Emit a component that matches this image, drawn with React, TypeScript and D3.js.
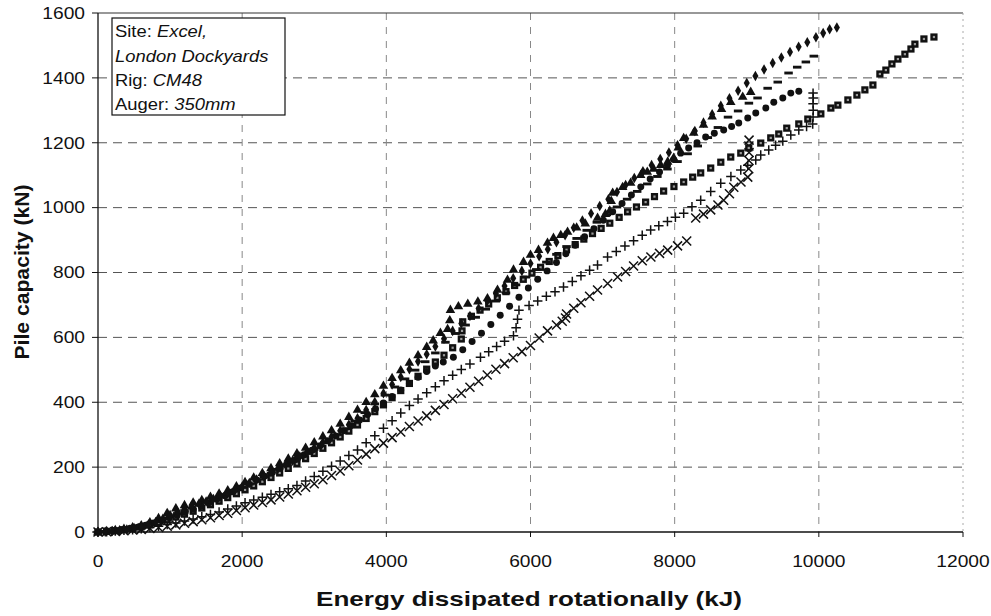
import React from 'react';
import * as d3 from 'd3';

const W = 991;
const H = 616;
const PLOT = { left: 98, right: 963, top: 13, bottom: 532 };

const xTicks = [0, 2000, 4000, 6000, 8000, 10000, 12000];
const yTicks = [0, 200, 400, 600, 800, 1000, 1200, 1400, 1600];
const xTitle = 'Energy dissipated rotationally (kJ)';
const yTitle = 'Pile capacity (kN)';

// Diamonds (top series)
const seriesDiamond: [number, number][] = [
  [0,0],[100,1],[200,3],[300,5],[400,8],[500,12],[600,17],[700,23],[800,31],[900,41],[1000,52],[1100,63],[1200,72],[1300,80],[1400,87],[1500,94],[1600,102],[1700,110],[1800,119],[1900,129],[2000,140],[2100,151],[2200,162],[2300,173],[2400,185],[2500,197],[2600,208],[2700,220],[2800,233],[2900,247],[3000,260],[3120,277],[3240,294],[3360,312],[3480,331],[3600,351],[3720,376],[3840,401],[3960,428],[4080,455],[4200,478],[4320,502],[4440,526],[4560,548],[4680,572],[4800,596],[4920,620],[5040,643],[5160,666],[5280,689],[5400,712],[5520,735],[5640,758],[5760,782],[5880,805],[6000,828],[6120,850],[6240,872],[6360,893],[6480,915],[6600,938],[6720,960],[6840,982],[6960,1005],[7080,1026],[7200,1048],[7320,1070],[7440,1091],[7560,1112],[7680,1131],[7800,1150],[7920,1170],[8040,1192],[8160,1212],[8280,1236],[8400,1262],[8520,1288],[8640,1314],[8760,1337],[8880,1360],[9000,1384],[9120,1406],[9240,1426],[9360,1446],[9480,1463],[9600,1480],[9720,1496],[9840,1510],[9960,1525],[10060,1538],[10150,1550],[10250,1555]
];

// Short dashes
const seriesDash: [number, number][] = [
  [0,0],[100,2],[200,4],[300,6],[400,10],[500,14],[600,19],[700,25],[800,32],[900,40],[1000,48],[1100,57],[1200,66],[1300,74],[1400,82],[1500,91],[1600,100],[1700,109],[1800,118],[1900,128],[2000,138],[2100,148],[2200,159],[2300,170],[2400,181],[2500,193],[2600,205],[2700,218],[2800,230],[2900,242],[3000,255],[3140,275],[3280,296],[3420,318],[3560,342],[3700,368],[3840,395],[3980,422],[4120,447],[4260,472],[4400,499],[4540,525],[4680,552],[4820,585],[4960,612],[5100,638],[5240,662],[5380,687],[5520,712],[5660,737],[5800,762],[5940,786],[6080,809],[6220,832],[6360,856],[6500,880],[6640,905],[6780,930],[6920,955],[7060,978],[7200,1002],[7340,1026],[7480,1050],[7620,1073],[7760,1096],[7900,1119],[8040,1142],[8180,1166],[8320,1190],[8460,1216],[8600,1247],[8740,1279],[8880,1298],[9030,1322],[9150,1338],[9290,1368],[9430,1387],[9580,1415],[9700,1433],[9820,1449],[9930,1467]
];

// Triangles
const seriesTriangle: [number, number][] = [
  [0,0],[120,2],[240,5],[360,9],[480,14],[600,20],[720,29],[840,42],[960,58],[1080,72],[1200,82],[1320,90],[1440,98],[1560,108],[1680,118],[1800,128],[1920,140],[2040,153],[2160,167],[2280,181],[2400,196],[2520,211],[2640,226],[2760,242],[2880,259],[3000,276],[3120,294],[3240,313],[3360,333],[3480,354],[3600,376],[3720,400],[3840,424],[3960,450],[4080,474],[4200,498],[4320,521],[4440,544],[4560,570],[4650,590],[4750,613],[4850,625],[4880,652],[4889,684],[5000,695],[5130,703],[5270,710],[5403,720],[5542,746],[5681,777],[5764,808],[5903,832],[6000,854],[6111,869],[6236,891],[6319,906],[6420,915],[6514,925],[6640,938],[6760,950],[6930,968],[7040,980],[7100,990],[7120,1020],[7140,1045],[7278,1063],[7389,1076],[7528,1100],[7620,1110],[7708,1119],[7806,1131],[7903,1141],[7986,1153],[8050,1185],[8125,1214],[8264,1230],[8400,1255],[8520,1280],[8650,1303],[8778,1325],[8944,1341],[9055,1356]
];

// Filled circles
const seriesCircle: [number, number][] = [
  [0,0],[110,1],[220,3],[330,6],[440,10],[550,15],[660,21],[770,28],[880,36],[990,44],[1100,52],[1210,61],[1320,70],[1430,80],[1540,90],[1650,101],[1760,112],[1870,124],[1980,136],[2090,148],[2200,160],[2310,172],[2420,184],[2530,197],[2640,210],[2750,224],[2860,238],[2970,252],[3080,266],[3190,281],[3300,296],[3410,312],[3520,328],[3630,345],[3740,362],[3850,380],[3960,398],[4080,418],[4200,438],[4320,458],[4440,477],[4560,495],[4680,512],[4790,524],[4930,539],[5060,562],[5190,587],[5320,613],[5450,640],[5580,668],[5710,696],[5840,724],[5970,752],[6100,779],[6230,805],[6360,831],[6490,858],[6620,884],[6750,910],[6880,935],[7010,961],[7140,987],[7270,1013],[7400,1039],[7530,1064],[7660,1088],[7790,1110],[7900,1130],[7986,1148],[8083,1168],[8194,1184],[8310,1200],[8430,1218],[8550,1229],[8680,1239],[8790,1250],[8889,1261],[9014,1276],[9125,1292],[9264,1307],[9375,1325],[9500,1338],[9611,1353],[9722,1359]
];

// Squares
const seriesSquare: [number, number][] = [
  [0,0],[120,2],[240,4],[360,7],[480,11],[600,16],[720,22],[840,29],[960,37],[1080,46],[1200,55],[1320,64],[1440,74],[1560,84],[1680,95],[1800,106],[1920,118],[2040,130],[2160,142],[2280,155],[2400,168],[2520,182],[2640,196],[2760,211],[2880,226],[3000,242],[3120,258],[3240,275],[3360,293],[3480,311],[3600,330],[3720,350],[3840,371],[3960,392],[4080,414],[4200,436],[4320,458],[4440,480],[4560,502],[4680,524],[4800,545],[4920,568],[5040,595],[5050,620],[5060,648],[5180,665],[5300,684],[5420,703],[5540,722],[5660,741],[5780,760],[5900,779],[6020,798],[6140,816],[6260,834],[6380,852],[6500,870],[6620,886],[6740,903],[6860,920],[6980,936],[7100,952],[7230,970],[7347,987],[7470,1002],[7597,1017],[7720,1034],[7847,1051],[7990,1065],[8125,1079],[8250,1094],[8361,1107],[8500,1122],[8640,1140],[8778,1156],[8917,1168],[9028,1184],[9194,1199],[9333,1215],[9444,1227],[9555,1245],[9722,1258],[9847,1273],[10028,1289],[10167,1307],[10264,1316],[10403,1332],[10528,1347],[10639,1363],[10750,1378],[10847,1412],[10930,1424],[11014,1443],[11097,1458],[11194,1473],[11278,1489],[11333,1504],[11458,1520],[11597,1526]
];

// Plus (middle lower series)
const seriesPlus: [number, number][] = [
  [0,0],[120,1],[240,3],[360,5],[480,7],[600,10],[720,14],[840,18],[960,23],[1080,28],[1200,34],[1320,40],[1440,47],[1560,54],[1680,62],[1800,71],[1920,80],[2040,90],[2160,99],[2280,107],[2400,116],[2520,124],[2640,133],[2760,143],[2880,157],[3000,171],[3120,187],[3240,203],[3360,219],[3480,236],[3600,253],[3720,275],[3840,297],[3960,320],[4080,343],[4200,367],[4320,390],[4440,410],[4560,429],[4680,448],[4800,466],[4920,483],[5040,501],[5160,518],[5306,539],[5420,556],[5530,572],[5640,588],[5764,605],[5800,630],[5820,656],[5840,684],[5980,698],[6100,712],[6220,727],[6340,741],[6458,755],[6580,772],[6700,790],[6820,807],[6930,823],[7069,848],[7190,865],[7310,882],[7430,898],[7550,915],[7667,931],[7780,944],[7900,957],[8010,970],[8125,983],[8240,1003],[8361,1023],[8500,1050],[8639,1075],[8780,1096],[8917,1116],[9014,1131],[9125,1147],[9194,1162],[9305,1178],[9400,1192],[9500,1205],[9611,1224],[9722,1239],[9830,1250],[9915,1258],[9920,1279],[9922,1300],[9920,1320],[9922,1338],[9920,1353]
];

// Crosses (lowest series)
const seriesTimes: [number, number][] = [
  [0,0],[120,1],[240,2],[360,4],[480,6],[600,8],[720,11],[840,14],[960,18],[1080,22],[1200,27],[1320,32],[1440,38],[1560,44],[1680,51],[1800,58],[1920,66],[2040,75],[2160,83],[2280,91],[2400,99],[2520,108],[2640,117],[2760,127],[2880,138],[3000,149],[3120,161],[3240,174],[3360,188],[3480,204],[3600,222],[3720,240],[3840,257],[3960,274],[4080,291],[4200,308],[4320,325],[4440,342],[4560,358],[4680,375],[4800,393],[4920,411],[5040,428],[5160,446],[5280,465],[5400,484],[5520,502],[5640,519],[5760,537],[5880,556],[6000,575],[6120,598],[6236,620],[6360,638],[6440,650],[6486,660],[6500,672],[6600,690],[6700,707],[6820,727],[6930,746],[7070,766],[7208,786],[7320,803],[7430,820],[7550,836],[7670,848],[7790,859],[7903,869],[8040,882],[8167,897],[8292,968],[8400,980],[8500,993],[8600,1008],[8680,1023],[8760,1043],[8820,1063],[8920,1079],[9014,1094],[9028,1120],[9030,1145],[9032,1170],[9030,1190],[9032,1208]
];

const plusType = {
  draw(ctx: any, size: number) {
    const r = Math.sqrt(size) / 2;
    ctx.moveTo(-r, 0); ctx.lineTo(r, 0);
    ctx.moveTo(0, -r); ctx.lineTo(0, r);
  },
};
const timesType = {
  draw(ctx: any, size: number) {
    const r = Math.sqrt(size) / 2;
    ctx.moveTo(-r, -r); ctx.lineTo(r, r);
    ctx.moveTo(-r, r); ctx.lineTo(r, -r);
  },
};
const dashType = {
  draw(ctx: any, size: number) {
    const w = Math.sqrt(size);
    const h = w * 0.34;
    ctx.rect(-w / 2, -h / 2, w, h);
  },
};

const INK = '#111';
const FONT = '"Liberation Sans", Arial, Helvetica, sans-serif';

function SText(props: any) {
  const { x, y, anchor = 'start', size = 16, weight = 'normal', sx = 1.2, children } = props;
  return (
    <text
      transform={`translate(${x},${y}) scale(${sx},1)`}
      textAnchor={anchor}
      fontSize={size}
      fontWeight={weight}
      fontFamily={FONT}
      fill={INK}
    >
      {children}
    </text>
  );
}

export default function App() {
  const x = d3.scaleLinear().domain([0, 12000]).range([PLOT.left, PLOT.right]);
  const y = d3.scaleLinear().domain([0, 1600]).range([PLOT.bottom, PLOT.top]);

  const sym = (type: any, size: number) => d3.symbol().type(type).size(size)() as string;

  const seriesDefs = [
    { key: 'times', data: seriesTimes, d: sym(timesType, 81), fill: 'none', stroke: INK, sw: 1.5 },
    { key: 'plus', data: seriesPlus, d: sym(plusType, 90), fill: 'none', stroke: INK, sw: 1.5 },
    { key: 'square', data: seriesSquare, d: sym(d3.symbolSquare, 52), fill: INK, stroke: 'none', sw: 0 },
    { key: 'circle', data: seriesCircle, d: sym(d3.symbolCircle, 38), fill: INK, stroke: 'none', sw: 0 },
    { key: 'triangle', data: seriesTriangle, d: sym(d3.symbolTriangle, 40), fill: INK, stroke: 'none', sw: 0 },
    { key: 'dash', data: seriesDash, d: sym(dashType, 72), fill: INK, stroke: 'none', sw: 0 },
    { key: 'diamond', data: seriesDiamond, d: sym(d3.symbolDiamond, 32), fill: INK, stroke: 'none', sw: 0 },
  ];
  const squareCenter = sym(d3.symbolSquare, 5);

  return (
    <svg width={W} height={H} style={{ position: 'absolute', left: 0, top: 0, background: '#fff' }}>
      <rect x={0} y={0} width={W} height={H} fill="#fff" />

      {/* gridlines */}
      {yTicks.filter(t => t > 0 && t < 1600).map(t => (
        <line key={'gy' + t} x1={PLOT.left} x2={PLOT.right} y1={y(t)} y2={y(t)}
          stroke="#555" strokeWidth={1} strokeDasharray="9,6" />
      ))}
      {xTicks.filter(t => t > 0 && t < 12000).map(t => (
        <line key={'gx' + t} x1={x(t)} x2={x(t)} y1={PLOT.top} y2={PLOT.bottom}
          stroke="#888" strokeWidth={1} strokeDasharray="7,7" />
      ))}

      {/* frame */}
      <line x1={PLOT.left} x2={PLOT.right} y1={PLOT.top} y2={PLOT.top} stroke="#333" strokeWidth={1.2} />
      <line x1={PLOT.right} x2={PLOT.right} y1={PLOT.top} y2={PLOT.bottom} stroke="#aaa" strokeWidth={1} strokeDasharray="2,4" />
      <line x1={PLOT.left} x2={PLOT.left} y1={PLOT.top} y2={PLOT.bottom} stroke={INK} strokeWidth={1.3} />
      <line x1={PLOT.left} x2={PLOT.right} y1={PLOT.bottom} y2={PLOT.bottom} stroke={INK} strokeWidth={1.3} />

      {/* ticks */}
      {yTicks.map(t => (
        <line key={'ty' + t} x1={PLOT.left - 6} x2={PLOT.left} y1={y(t)} y2={y(t)} stroke={INK} strokeWidth={1} />
      ))}
      {xTicks.map(t => (
        <line key={'tx' + t} x1={x(t)} x2={x(t)} y1={PLOT.bottom} y2={PLOT.bottom + 5} stroke={INK} strokeWidth={1} />
      ))}

      {/* tick labels */}
      {yTicks.map(t => (
        <SText key={'ly' + t} x={PLOT.left - 13} y={y(t) + 5.8} anchor="end" size={16}>{String(t)}</SText>
      ))}
      {xTicks.map(t => (
        <SText key={'lx' + t} x={x(t)} y={567} anchor="middle" size={16}>{String(t)}</SText>
      ))}

      {/* axis titles */}
      <text x={529} y={606} textAnchor="middle" fontSize={21} fontWeight="bold" fontFamily={FONT} fill={INK}
        textLength={426} lengthAdjust="spacingAndGlyphs">{xTitle}</text>
      <text transform="translate(29,272) rotate(-90)" textAnchor="middle" fontSize={20} fontWeight="bold"
        fontFamily={FONT} fill={INK} textLength={175} lengthAdjust="spacingAndGlyphs">{yTitle}</text>

      {/* series */}
      {seriesDefs.map(s => (
        <g key={s.key}>
          {s.data.map((p, i) => (
            <path key={i} d={s.d} transform={`translate(${x(p[0])},${y(p[1])})`}
              fill={s.fill} stroke={s.stroke} strokeWidth={s.sw} />
          ))}
          {s.key === 'square' && s.data.map((p, i) => (
            <path key={'c' + i} d={squareCenter} transform={`translate(${x(p[0])},${y(p[1])})`} fill="#999" />
          ))}
        </g>
      ))}

      {/* annotation box */}
      <rect x={112} y={18} width={173} height={97} fill="#fff" stroke={INK} strokeWidth={1.2} />
      <SText x={115} y={37} size={16} sx={1.15}>Site: <tspan fontStyle="italic">Excel,</tspan></SText>
      <SText x={115} y={62} size={16} sx={1.15}><tspan fontStyle="italic">London Dockyards</tspan></SText>
      <SText x={115} y={86} size={16} sx={1.15}>Rig: <tspan fontStyle="italic">CM48</tspan></SText>
      <SText x={115} y={110} size={16} sx={1.15}>Auger: <tspan fontStyle="italic">350mm</tspan></SText>
    </svg>
  );
}
